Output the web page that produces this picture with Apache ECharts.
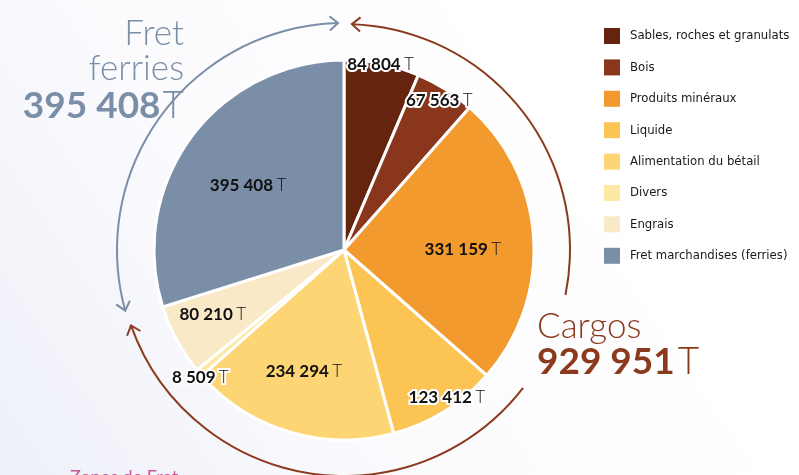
<!DOCTYPE html>
<html>
<head>
<meta charset="utf-8">
<script src="https://cdn.jsdelivr.net/npm/echarts@6/dist/echarts.min.js"></script>
<style>
  html, body { margin: 0; padding: 0; }
  #chart { width: 799px; height: 475px; }
</style>
</head>
<body>
<div id="chart"></div>
<script>
// Tonnages by goods type (cargo ships + ferries)
const categories = [
  'Sables, roches et granulats',
  'Bois',
  'Produits minéraux',
  'Liquide',
  'Alimentation du bétail',
  'Divers',
  'Engrais',
  'Fret marchandises (ferries)'
]
const tonnages = [84804, 67563, 331159, 123412, 234294, 8509, 80210, 395408]
const cargoTotal = 929951
const ferryTotal = 395408

const colors = ['#65240d', '#89361c', '#f39a2f', '#fcc452', '#fed574', '#fde9a4', '#f9e9c7', '#7b8ea8']
// label nudges away from the default "inside" spot, and whether the label gets a white halo
const labelOffsets = [[17, -89], [43, -67], [21, 6], [51, 64], [-12, 28], [-69, 64], [-45, 18], [-17, -6]]
const labelHalo = [true, true, false, true, false, true, false, false]

const CX = 344, CY = 250, R = 190

const fmt = v => String(v).replace(/\B(?=(\d{3})+(?!\d))/g, ' ')

const chart = echarts.init(document.getElementById('chart'))

const pieData = categories.map((name, i) => {
  const halo = labelHalo[i] ? { textBorderColor: '#fff', textBorderWidth: 4 } : {}
  return {
    name,
    value: tonnages[i],
    itemStyle: { color: colors[i] },
    label: {
      offset: labelOffsets[i],
      rich: {
        b: Object.assign({ fontFamily: 'Lato', fontWeight: 'bold', fontSize: 17, color: '#111' }, halo),
        t: Object.assign({ fontFamily: 'Lato', fontWeight: 300, fontSize: 17, color: '#111' }, halo)
      }
    }
  }
})

// decorative arcs with chevron heads, angles in degrees measured clockwise from the top
function arcPath(r, from, to, color, headStart, headEnd) {
  const rad = d => (d - 90) * Math.PI / 180
  const out = [{
    type: 'arc',
    silent: true,
    shape: { cx: CX, cy: CY, r, startAngle: rad(from), endAngle: rad(to), clockwise: true },
    style: { stroke: color, lineWidth: 2, fill: null }
  }]
  function head(deg, sign) {
    const a = rad(deg)
    const px = CX + r * Math.cos(a), py = CY + r * Math.sin(a)
    // travel direction
    const dx = -Math.sin(a) * sign, dy = Math.cos(a) * sign
    const L = 11, spread = 0.7
    const pts = [-spread, spread].map(s => {
      const c = Math.cos(s), sn = Math.sin(s)
      const rx = dx * c - dy * sn, ry = dx * sn + dy * c
      return [px - L * rx, py - L * ry]
    })
    out.push({
      type: 'polyline',
      silent: true,
      shape: { points: [pts[0], [px, py], pts[1]] },
      style: { stroke: color, lineWidth: 2, fill: null }
    })
  }
  if (headStart) head(from, -1)
  if (headEnd) head(to, 1)
  return out
}

const grey = '#7b8ea8', brown = '#8b3a1e'
const headFont = '300 35px Lato'

chart.setOption({
  backgroundColor: {
    type: 'linear', x: 0, y: 1, x2: 0.7, y2: 0.2,
    colorStops: [{ offset: 0, color: '#eef0f8' }, { offset: 0.5, color: '#fbfbfe' }, { offset: 1, color: '#ffffff' }]
  },
  animation: false,
  legend: {
    orient: 'vertical',
    left: 599,
    top: 23,
    itemWidth: 16,
    itemHeight: 16,
    itemGap: 15.4,
    icon: 'rect',
    itemStyle: { borderWidth: 0 },
    textStyle: { fontFamily: "'DejaVu Sans Condensed', Roboto", fontSize: 13, color: '#1a1a1a', padding: [0, 0, 0, 5] },
    data: categories
  },
  series: [{
    type: 'pie',
    center: [CX, CY],
    radius: [0, R],
    startAngle: 90,
    clockwise: true,
    avoidLabelOverlap: false,
    label: {
      show: true,
      position: 'inside',
      formatter: p => '{b|' + fmt(p.value) + '} {t|T}'
    },
    labelLine: { show: false },
    itemStyle: { borderColor: '#fff', borderWidth: 3 },
    emphasis: { disabled: true },
    data: pieData
  }],
  graphic: [
    ...arcPath(227, 254.5, 358.5, grey, true, true),
    ...arcPath(226, 2, 101.5, brown, true, false),
    ...arcPath(226, 127.6, 250.5, brown, false, true),
    {
      type: 'text', silent: true,
      style: { x: 184, y: 51, text: 'Fret\nferries', font: headFont, fill: grey, textAlign: 'right', textVerticalAlign: 'middle', lineHeight: 35 }
    },
    {
      type: 'text', silent: true,
      style: {
        x: 184, y: 106, textAlign: 'right', textVerticalAlign: 'middle',
        text: '{b|' + fmt(ferryTotal) + '}{t|T}',
        rich: {
          b: { fontFamily: 'Lato', fontWeight: 'bold', fontSize: 37, fill: grey },
          t: { fontFamily: 'Lato', fontWeight: 300, fontSize: 37, fill: grey, padding: [0, 0, 0, 2] }
        }
      }
    },
    {
      type: 'text', silent: true,
      style: { x: 537, y: 327, text: 'Cargos', font: headFont, fill: brown, textAlign: 'left', textVerticalAlign: 'middle' }
    },
    {
      type: 'text', silent: true,
      style: {
        x: 537, y: 362, textAlign: 'left', textVerticalAlign: 'middle',
        text: '{b|' + fmt(cargoTotal) + '}{t|T}',
        rich: {
          b: { fontFamily: 'Lato', fontWeight: 'bold', fontSize: 37, fill: brown },
          t: { fontFamily: 'Lato', fontWeight: 300, fontSize: 37, fill: brown, padding: [0, 0, 0, 3] }
        }
      }
    },
    {
      type: 'text', silent: true,
      style: { x: 70, y: 468, text: 'Zones de Fret', font: '18px Lato', fill: '#c7559a', textAlign: 'left', textVerticalAlign: 'top' }
    }
  ]
})
</script>
</body>
</html>
